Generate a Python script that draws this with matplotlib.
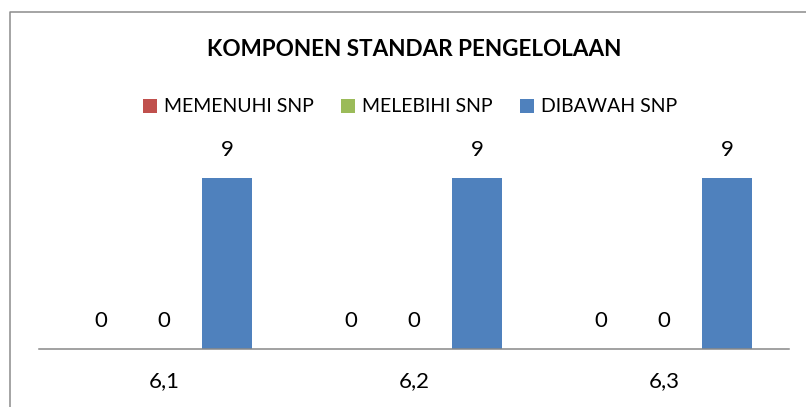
import matplotlib
matplotlib.use("Agg")
import matplotlib.pyplot as plt
from matplotlib.lines import Line2D
from matplotlib.patches import Patch
from matplotlib import font_manager
import numpy as np

names = sorted({f.name for f in font_manager.fontManager.ttflist})
narrow = 'Liberation Sans Narrow' if 'Liberation Sans Narrow' in names else 'Lato'
plt.rcParams['font.family'] = ['Lato', 'DejaVu Sans']

categories = ["6,1", "6,2", "6,3"]
series_names = ["MEMENUHI SNP", "MELEBIHI SNP", "DIBAWAH SNP"]
memenuhi = [0, 0, 0]
melebihi = [0, 0, 0]
dibawah = [9, 9, 9]
colors = ["#C0504D", "#9BBB59", "#4F81BD"]
title = "KOMPONEN STANDAR PENGELOLAAN"

W, H = 806, 407
fig = plt.figure(figsize=(W / 100, H / 100), dpi=100)
ax = fig.add_axes([39 / W, 58 / H, 750 / W, 190 / H])

x = np.arange(len(categories))
offsets = [-0.252, 0.0, 0.252]
width = 0.2
all_series = [memenuhi, melebihi, dibawah]
for vals, off, c in zip(all_series, offsets, colors):
    bars = ax.bar(x + off, vals, width=width, color=c)
    for b, v in zip(bars, vals):
        ax.annotate(str(v), (b.get_x() + b.get_width() / 2, v),
                    xytext=(0, 20.2), textcoords='offset points',
                    ha='center', va='center', fontsize=16, color='black')

ax.set_xlim(-0.5, 2.5)
ax.set_ylim(0, 10)
ax.set_yticks([])
ax.set_xticks(x)
ax.set_xticklabels(categories, fontsize=16)
ax.tick_params(axis='x', length=0, pad=16)
for s in ['left', 'right', 'top']:
    ax.spines[s].set_visible(False)
ax.spines['bottom'].set_color('#888888')
ax.spines['bottom'].set_linewidth(1.1)

fig.text(414 / W, 1 - 49.5 / H, title, ha='center', va='center',
         fontsize=16.2, fontweight='bold')

handles = [Patch(facecolor=c, edgecolor='none') for c in colors]
fs = 16 if narrow != 'Lato' else 14
fig.legend(handles, series_names, loc='center', bbox_to_anchor=(410 / W, 1 - 107 / H),
           ncol=3, frameon=False, prop={'family': [narrow, 'DejaVu Sans'], 'size': fs},
           handlelength=14 / (fs * 1.389), handleheight=14 / (fs * 1.389),
           handletextpad=7 / (fs * 1.389), columnspacing=27 / (fs * 1.389),
           borderpad=0, borderaxespad=0)

# chart border (left and top visible)
fig.add_artist(Line2D([9.5 / W, 9.5 / W, 1.0], [0.0, 1 - 12 / H, 1 - 12 / H],
                      transform=fig.transFigure, color='#8C8C8C', linewidth=1.1))

fig.savefig("out.png", dpi=100)
